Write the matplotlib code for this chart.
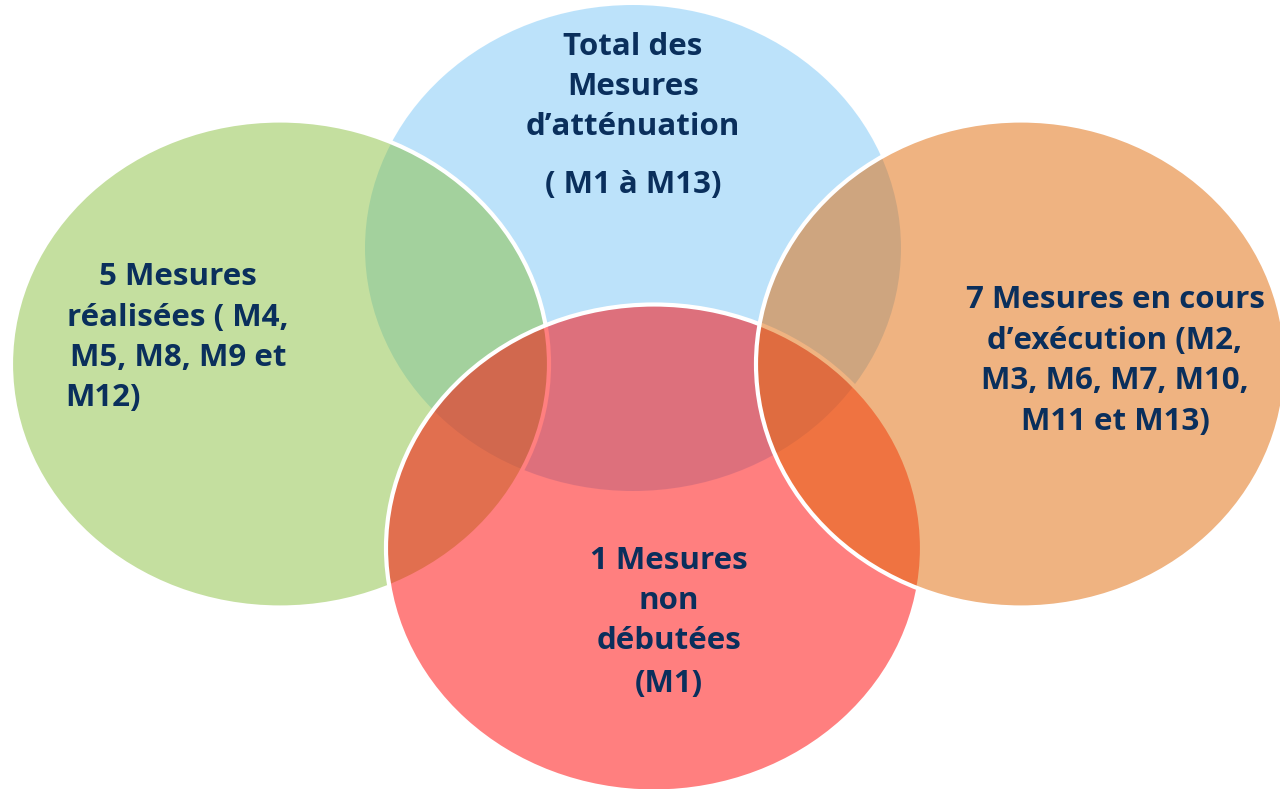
import matplotlib.pyplot as plt
from matplotlib.patches import Ellipse

# ellipse layout (pixel space of the slide), drawn in this order
names = ['total', 'realisees', 'non_debutees', 'en_cours']
centers_x = [633, 280, 654, 1021]
centers_y = [248, 364, 548, 364]
widths = [536, 538, 536, 530]
heights = [486, 487, 487, 487]
fills = [(0.48, 0.78, 0.97, 0.5), (0.545, 0.757, 0.255, 0.5),
         (1.0, 0.0, 0.0, 0.5), (0.882, 0.412, 0.02, 0.5)]
edges = ['none', 'white', 'white', 'white']

# text blocks
total_lines = ['Total des', 'Mesures', 'd\u2019atténuation']
total_extra = '( M1 à M13)'
realisees_lines = ['5 Mesures', 'réalisées ( M4,', 'M5, M8, M9 et']
realisees_last = 'M12)'
cours_lines = ['7 Mesures en cours', 'd\u2019exécution (M2,', 'M3, M6, M7, M10,', 'M11 et M13)']
non_lines = ['1 Mesures', 'non', 'débutées', '(M1)']

txt_color = '#0a2f5c'

fig = plt.figure(figsize=(12.8, 7.89), dpi=100)
ax = fig.add_axes([0, 0, 1, 1])
ax.set_xlim(0, 1280)
ax.set_ylim(789, 0)
ax.axis('off')

for i in range(len(names)):
    e = Ellipse((centers_x[i], centers_y[i]), widths[i], heights[i],
                facecolor=fills[i], edgecolor=edges[i], linewidth=3, zorder=i + 1)
    ax.add_patch(e)

kw = dict(color=txt_color, fontsize=22.5, fontweight='bold', family='Open Sans',
          va='center', zorder=10)

for j, s in enumerate(total_lines):
    ax.text(633, 47 + j * 40, s, ha='center', **kw)
ax.text(633, 185, total_extra, ha='center', **kw)

for j, s in enumerate(realisees_lines):
    ax.text(178, 277 + j * 40.5, s, ha='center', **kw)
ax.text(65, 398, realisees_last, ha='left', **kw)

for j, s in enumerate(cours_lines):
    ax.text(1115, 300 + j * 40.7, s, ha='center', **kw)

ys_non = [561, 601, 641, 684]
for s, y in zip(non_lines, ys_non):
    ax.text(669, y, s, ha='center', **kw)

fig.savefig('out.png', dpi=100)
